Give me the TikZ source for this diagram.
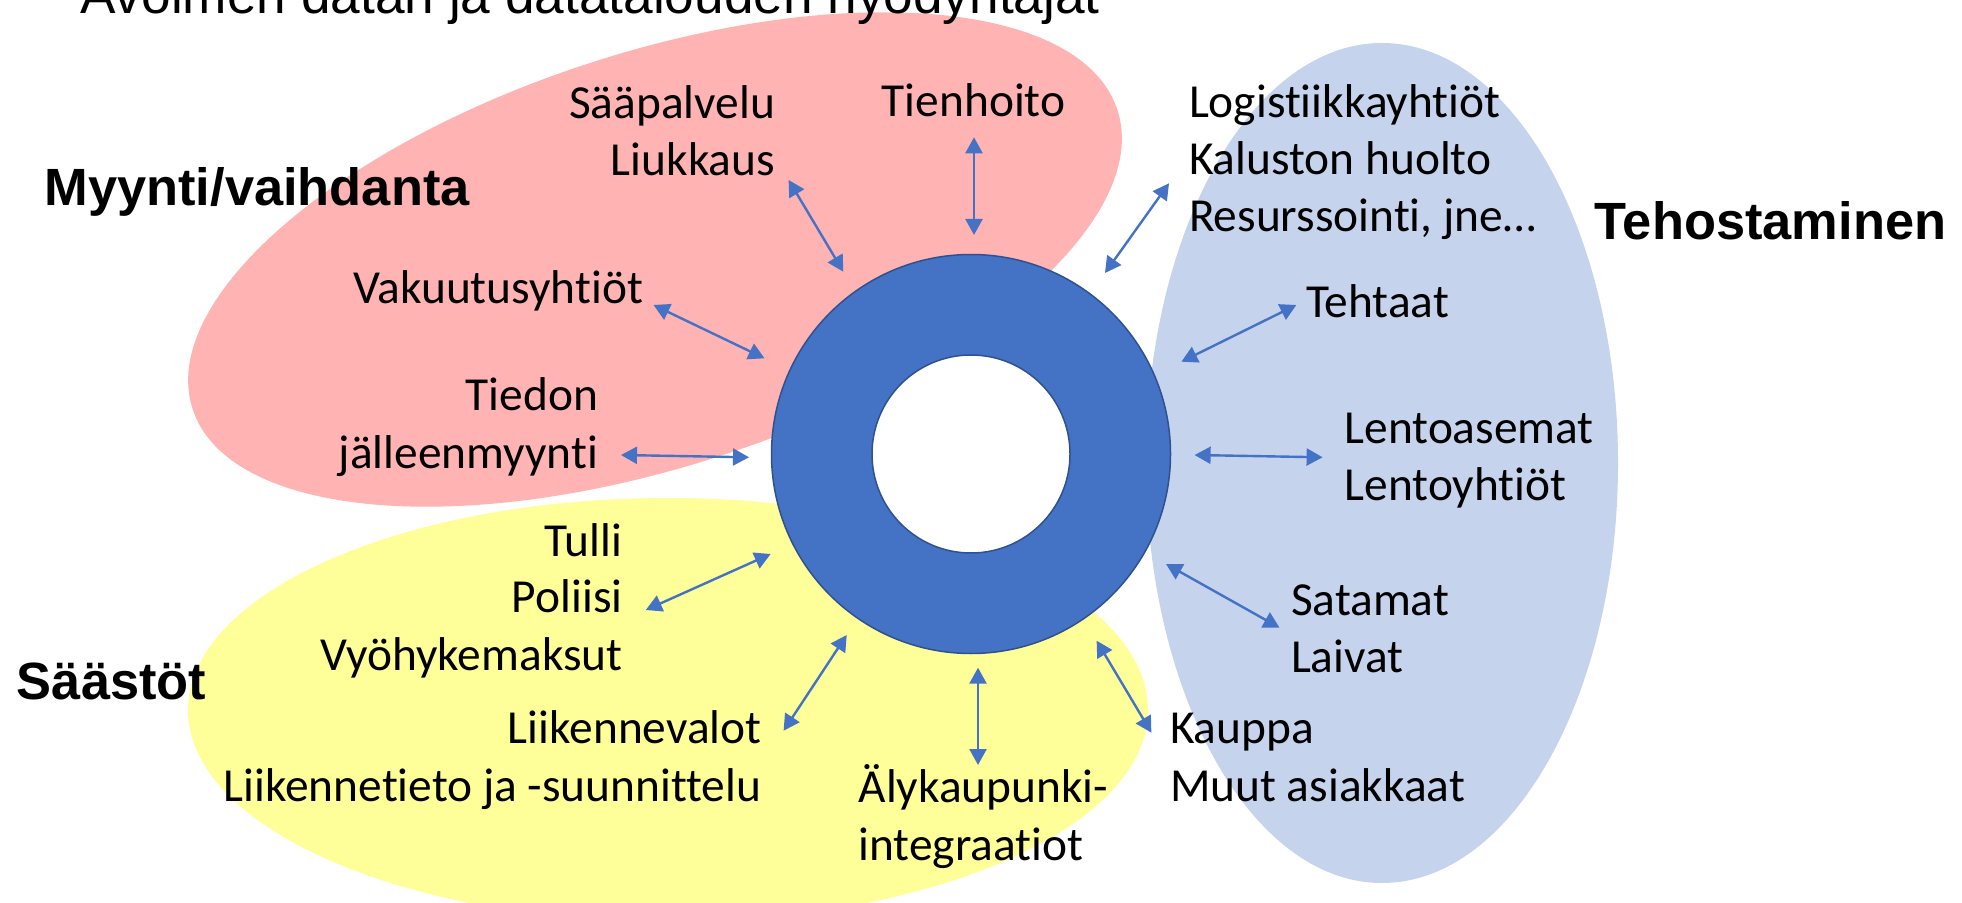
\documentclass[tikz,border=0pt]{standalone}
\usepackage{fontspec}
\setmainfont{Carlito}[Ligatures={NoCommon}]
\newfontfamily\arialfont{Liberation Sans}
\usetikzlibrary{arrows.meta}
\definecolor{pinkc}{HTML}{FFB3B3}
\definecolor{yellowc}{HTML}{FFFF99}
\definecolor{lbluec}{HTML}{C5D3ED}
\definecolor{ringc}{HTML}{4472C4}
\definecolor{ringedge}{HTML}{2F528F}
\tikzset{
  lbl/.style={inner sep=0pt, outer sep=0pt, font=\fontsize{23.7pt}{28.65pt}\selectfont},
  cat/.style={inner sep=0pt, outer sep=0pt, font=\arialfont\bfseries\fontsize{26.2pt}{31pt}\selectfont},
  conn/.style={draw=ringc, line width=1.2pt, {Triangle[length=8pt,width=8.5pt]}-{Triangle[length=8pt,width=8.5pt]}}
}
\begin{document}
\begin{tikzpicture}[x=0.5pt,y=-0.5pt]
\useasboundingbox (0,0) rectangle (1962,903);
\clip (0,0) rectangle (1962,903);
% background areas
\fill[pinkc, rotate around={17.9:(655,259.5)}] (655,259.5) ellipse [x radius=243pt, y radius=103.5pt];
\fill[yellowc] (668,710) ellipse [x radius=240pt, y radius=106pt];
\fill[lbluec] (1382,463) ellipse [x radius=118pt, y radius=210pt];
% title (cut off at top, as in the original)
\node[anchor=base west, inner sep=0pt, font=\arialfont\fontsize{26.6pt}{32pt}\selectfont] (title) at (80,14) {Avoimen datan ja datatalouden hyödyntäjät};
% ring
\node[circle, draw=ringedge, fill=ringc, line width=0.75pt, minimum size=199.5pt, inner sep=0pt] (ring) at (971,454) {};
\node[circle, draw=ringedge, fill=white, line width=0.75pt, minimum size=99pt, inner sep=0pt] (hole) at (971,454) {};
% category labels
\node[cat, anchor=base west] (myynti) at (44.6,206) {Myynti/vaihdanta};
\node[cat, anchor=base west] (teho) at (1594.8,239.3) {Tehostaminen};
\node[cat, anchor=base west] (saasto) at (17,699.3) {Säästöt};
% left labels (right aligned)
\node[lbl, anchor=base east] (saa) at (775,118.7) {Sääpalvelu};
\node[lbl, anchor=base east] (liuk) at (775,176) {Liukkaus};
\node[lbl, anchor=base east] (vak) at (643,303.5) {Vakuutusyhtiöt};
\node[lbl, anchor=base east] (tied) at (598,410) {Tiedon};
\node[lbl, anchor=base east] (jall) at (598,468) {jälleenmyynti};
\node[lbl, anchor=base east] (tulli) at (622.5,556) {Tulli};
\node[lbl, anchor=base east] (pol) at (622.5,612.7) {Poliisi};
\node[lbl, anchor=base east] (vyo) at (622.5,670.7) {Vyöhykemaksut};
\node[lbl, anchor=base east] (lvalot) at (761.5,743.3) {Liikennevalot};
\node[lbl, anchor=base east] (ltieto) at (761.5,801.7) {Liikennetieto ja -suunnittelu};
% right labels (left aligned)
\node[lbl, anchor=base west] (tienh) at (881.7,116.7) {Tienhoito};
\node[lbl, anchor=base west] (logi) at (1189,117.3) {Logistiikkayhtiöt};
\node[lbl, anchor=base west] (kalu) at (1189,175) {Kaluston huolto};
\node[lbl, anchor=base west] (resu) at (1189,231.7) {Resurssointi, jne…};
\node[lbl, anchor=base west] (teht) at (1306,317.3) {Tehtaat};
\node[lbl, anchor=base west] (lasem) at (1344.6,443.3) {Lentoasemat};
\node[lbl, anchor=base west] (lyht) at (1344.6,500.6) {Lentoyhtiöt};
\node[lbl, anchor=base west] (sata) at (1291,615) {Satamat};
\node[lbl, anchor=base west] (laiv) at (1291,672.7) {Laivat};
\node[lbl, anchor=base west] (kaup) at (1170,743.3) {Kauppa};
\node[lbl, anchor=base west] (muut) at (1170,801.7) {Muut asiakkaat};
\node[lbl, anchor=base west] (aly) at (858.6,802.7) {Älykaupunki-};
\node[lbl, anchor=base west] (integ) at (858.6,860) {integraatiot};
% arrow end points
\coordinate (liukA) at (788.6,180);   \coordinate (liukB) at (843.3,271.7);
\coordinate (tienA) at (974,137.3);   \coordinate (tienB) at (974,235);
\coordinate (logiA) at (1169,183.3);  \coordinate (logiB) at (1105,273);
\coordinate (vakA) at (653.5,305);    \coordinate (vakB) at (764.5,358.3);
\coordinate (tiedA) at (621,455);     \coordinate (tiedB) at (749,457.3);
\coordinate (tehtA) at (1296.3,305);  \coordinate (tehtB) at (1181.4,361.7);
\coordinate (lentA) at (1194.6,455);  \coordinate (lentB) at (1322.6,457.3);
\coordinate (sataA) at (1166,564);    \coordinate (sataB) at (1279.5,627.7);
\coordinate (kaupA) at (1096.6,640.7); \coordinate (kaupB) at (1151.4,732.7);
\coordinate (alyA) at (978,667.7);    \coordinate (alyB) at (978,765);
\coordinate (lvA) at (846.7,635);     \coordinate (lvB) at (783.6,730.7);
\coordinate (polA) at (770.6,554);    \coordinate (polB) at (645.8,610);
% connectors
\draw[conn] (liukA) -- (liukB);
\draw[conn] (tienA) -- (tienB);
\draw[conn] (logiA) -- (logiB);
\draw[conn] (vakA) -- (vakB);
\draw[conn] (tiedA) -- (tiedB);
\draw[conn] (tehtA) -- (tehtB);
\draw[conn] (lentA) -- (lentB);
\draw[conn] (sataA) -- (sataB);
\draw[conn] (kaupA) -- (kaupB);
\draw[conn] (alyA) -- (alyB);
\draw[conn] (lvA) -- (lvB);
\draw[conn] (polA) -- (polB);
\end{tikzpicture}
\end{document}
